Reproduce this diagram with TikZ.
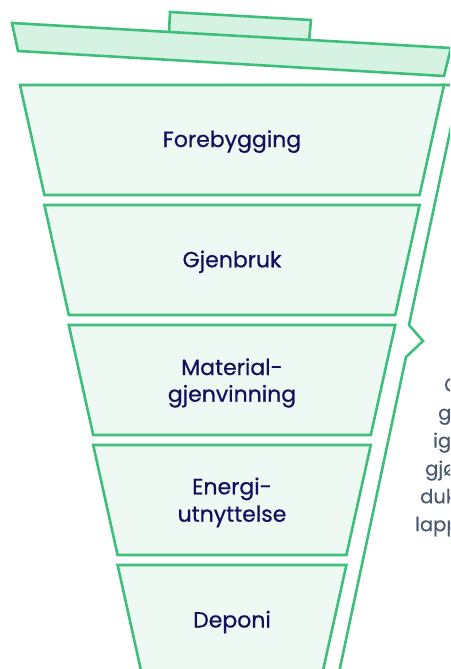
\documentclass[tikz,border=0pt]{standalone}
\usepackage{fontspec}
\setmainfont{Poppins}
\newfontfamily\labelfont{Poppins}[FakeBold=0.6]
\newfontfamily\sidefont{Poppins}[FakeBold=0.4]
\definecolor{cangreen}{HTML}{3DBE7B}
\definecolor{lidfill}{HTML}{D6F2E2}
\definecolor{bandfill}{HTML}{EFF9F4}
\definecolor{labelnavy}{HTML}{10105E}
\definecolor{sidegray}{HTML}{4B5872}
\begin{document}
\begin{tikzpicture}[x=1pt,y=-1pt,
  outline/.style={draw=cangreen,line width=2.6pt,line join=miter},
  lidpart/.style={outline,fill=lidfill},
  band/.style={outline,fill=bandfill},
  bandtext/.style={text=labelnavy,font=\labelfont\fontsize{22}{27}\selectfont,anchor=base,inner sep=0pt},
  sidetext/.style={text=sidegray,font=\sidefont\fontsize{19.5}{22}\selectfont,anchor=base west,inner sep=0pt}]
\useasboundingbox (0,0) rectangle (450,669);
\clip (0,0) rectangle (450,669);
% lid
\draw[lidpart] (170,12) -- (311,20) -- (309,41) -- (169,33) -- cycle;
\draw[lidpart] (12,23) -- (451,48) -- (444,76) -- (18,51) -- cycle;
% outer outline with notch
\draw[outline] (440,85) -- (460,85) -- (409,325) -- (423,341) -- (406,357) -- (330,715);
% bands
\foreach \k in {0,...,4} {
  \pgfmathsetmacro\yt{85+120*\k}
  \pgfmathsetmacro\yb{85+120*\k+110}
  \pgfmathsetmacro\ht{212-24.4*\k}
  \pgfmathsetmacro\hb{212-24.4*(\k+1)}
  \draw[band] ({232-\ht},\yt) -- ({232+\ht},\yt) -- ({232+\hb},\yb) -- ({232-\hb},\yb) -- cycle;
}
% band labels
\node[bandtext] (forebygging) at (232,147) {Forebygging};
\node[bandtext] (gjenbruk) at (232,267.3) {Gjenbruk};
\node[bandtext] (material) at (232,375) {Material-};
\node[bandtext] (gjenvinning) at (232,401.7) {gjenvinning};
\node[bandtext] (energi) at (232,494.3) {Energi-};
\node[bandtext] (utnyttelse) at (232,521.7) {utnyttelse};
\node[bandtext] (deponi) at (232,627.5) {Deponi};
% side text (cut off at the right edge, as in the reference)
\node[sidetext] (side1) at (444,391.7) {G};
\node[sidetext] (side2) at (438,419.6) {g};
\node[sidetext] (side3) at (433,447.5) {ig};
\node[sidetext] (side4) at (425,475.4) {gjø};
\node[sidetext] (side5) at (420,503.3) {duk};
\node[sidetext] (side6) at (415,531.2) {lapp};
\end{tikzpicture}
\end{document}
